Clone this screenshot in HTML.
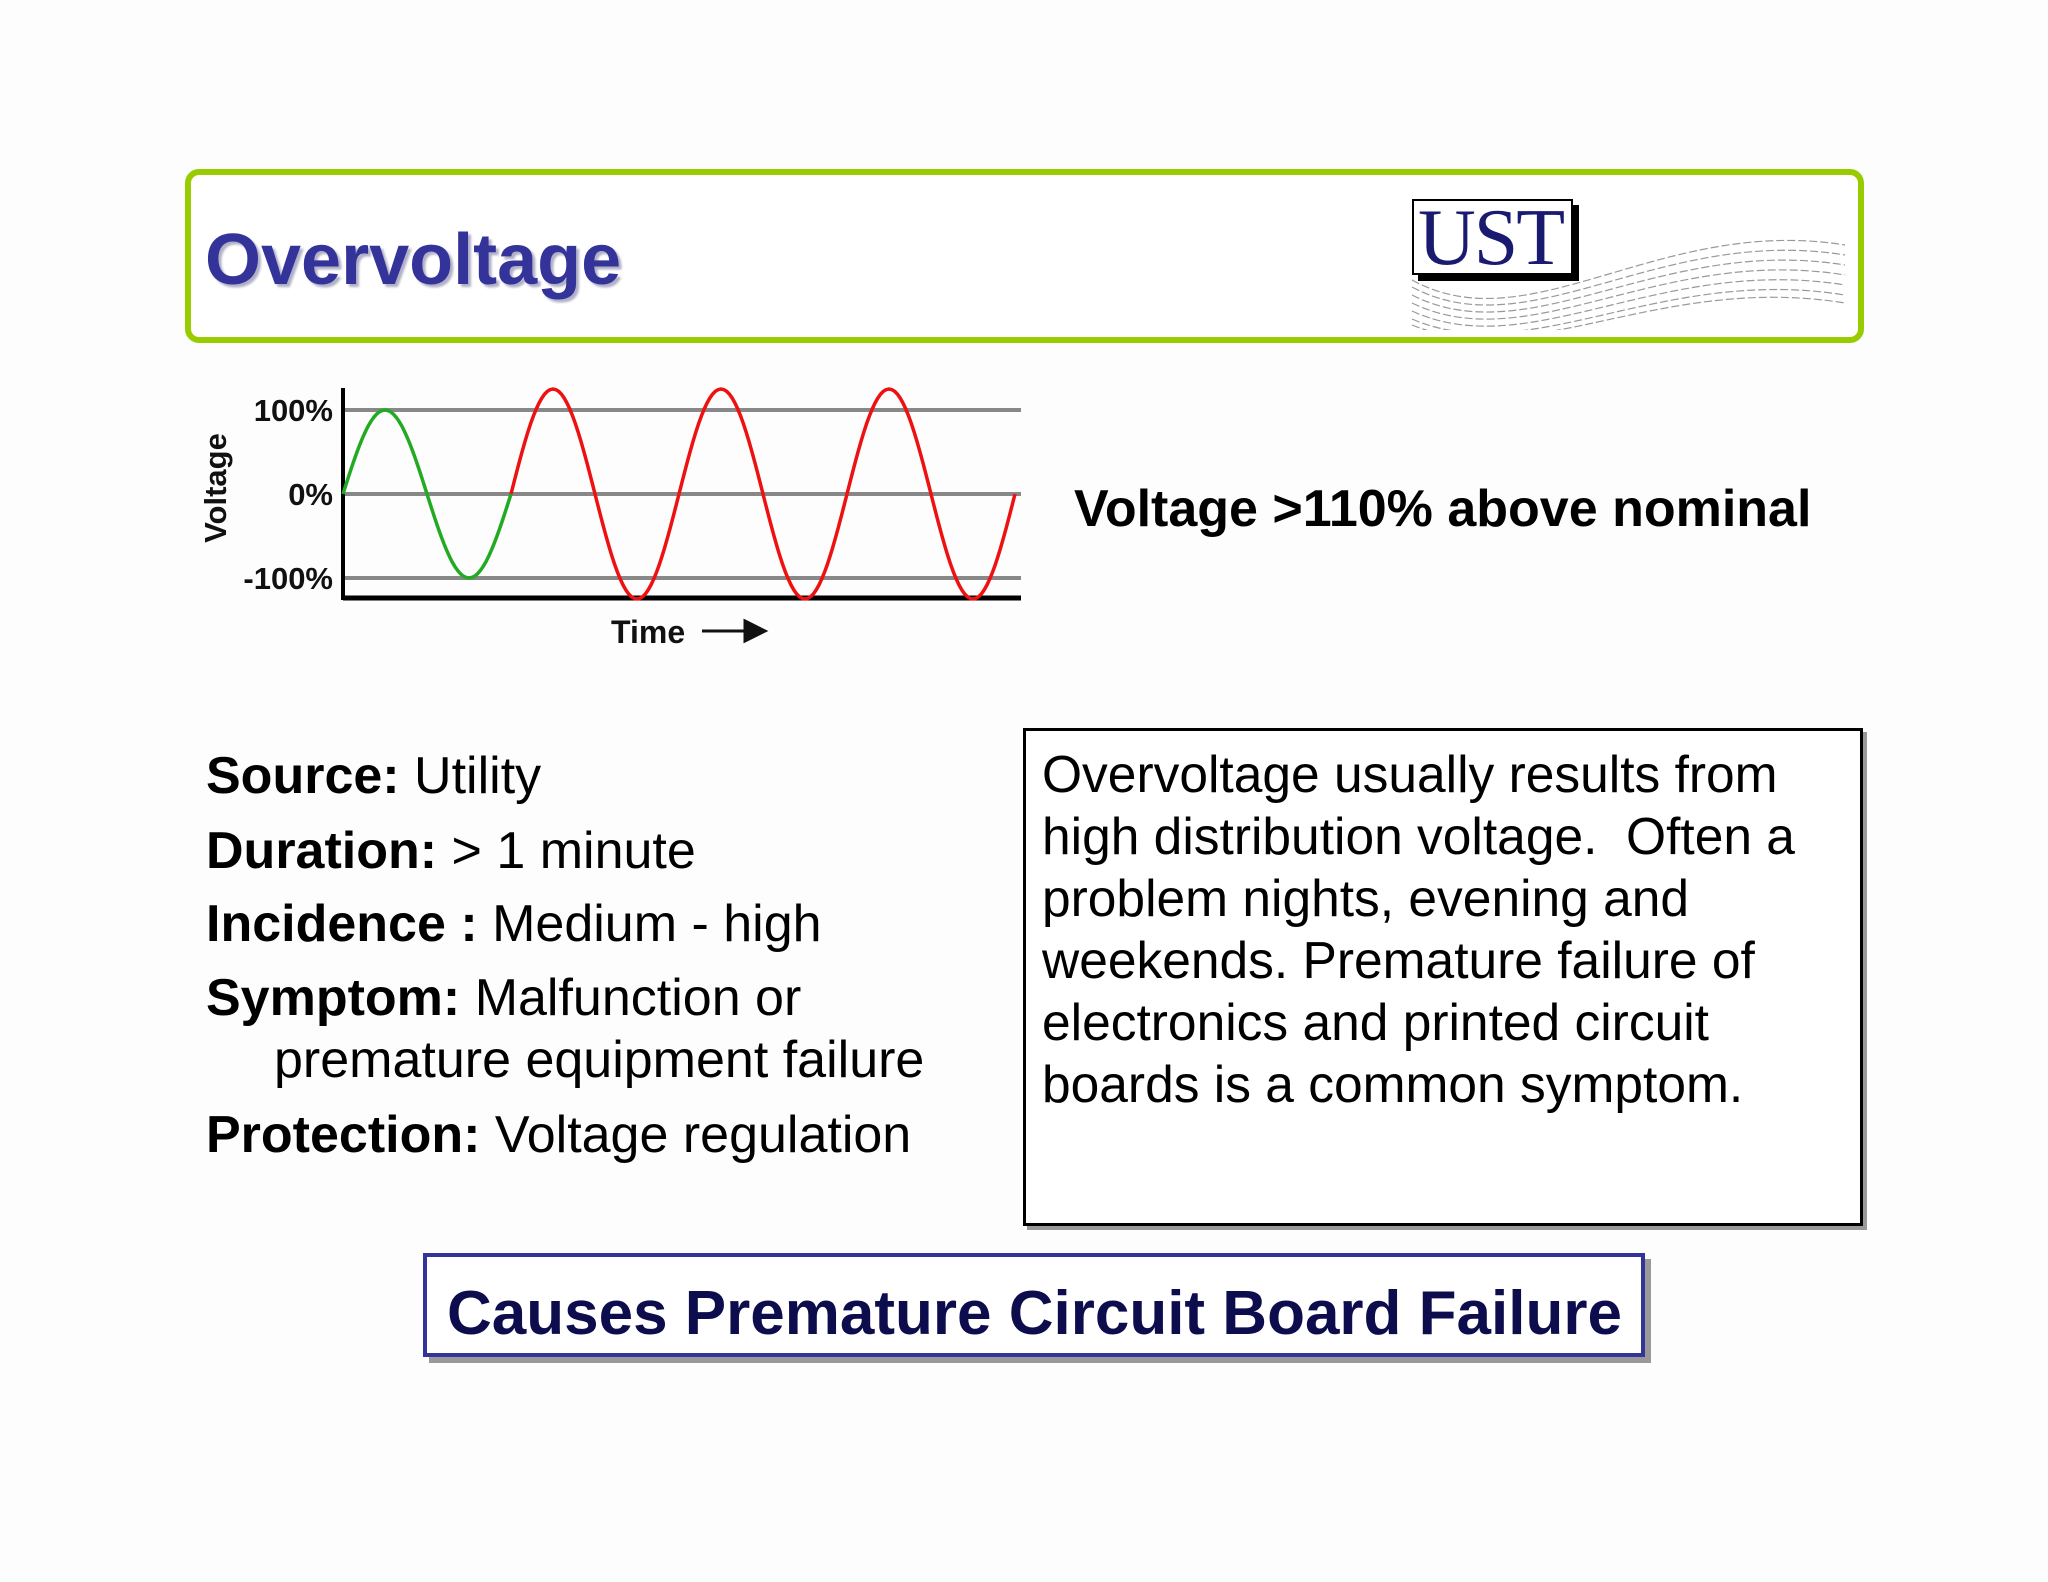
<!DOCTYPE html>
<html><head><meta charset="utf-8"><style>
html,body{margin:0;padding:0}
body{width:2048px;height:1582px;background:#fdfdfd;position:relative;overflow:hidden;font-family:"Liberation Sans",Arial,sans-serif;color:#000}
.abs{position:absolute}
.txt{position:absolute;white-space:pre;font-size:52px;line-height:1}
b{font-weight:bold}
</style></head><body>
<div class="abs" style="left:185px;top:169px;width:1667px;height:162px;border:6px solid #99cc00;border-radius:14px;background:#fff"></div>
<div class="txt" style="left:205px;top:224px;font-size:72px;font-weight:bold;color:#333399;text-shadow:3px 3px 2px #b0b0c8">Overvoltage</div>
<div class="abs" style="left:1412px;top:199px;width:157px;height:72px;border:2px solid #000;background:#fff;box-shadow:6px 6px 0 #000"></div>
<div class="txt" style="left:1418px;top:198px;font-family:'Liberation Serif',serif;font-size:80px;color:#1a1a70;letter-spacing:-2px">UST</div>
<svg class="abs" style="left:1410px;top:225px" width="440" height="105" viewBox="0 0 440 105">
<g fill="none" stroke="#999" stroke-width="1.2" stroke-dasharray="8 3">
<path d="M2 55 C120 120,250 -10,435 20"/><path d="M2 62 C120 125,250 0,435 30"/><path d="M2 70 C120 130,250 10,435 40"/><path d="M2 78 C120 135,250 20,435 50"/><path d="M2 86 C120 140,250 30,435 60"/><path d="M2 94 C120 145,250 40,435 70"/><path d="M2 100 C120 148,250 48,435 78"/>
</g></svg>

<svg class="abs" style="left:0;top:0" width="1100" height="680" id="chart"></svg>

<div class="txt" style="left:1074px;top:483px;font-size:52px;font-weight:bold">Voltage &gt;110% above nominal</div>

<div class="txt" style="left:206px;top:750px"><b>Source:</b> Utility</div>
<div class="txt" style="left:206px;top:825px"><b>Duration:</b> &gt; 1 minute</div>
<div class="txt" style="left:206px;top:898px"><b>Incidence :</b> Medium - high</div>
<div class="txt" style="left:206px;top:972px"><b>Symptom:</b> Malfunction or</div>
<div class="txt" style="left:274px;top:1034px">premature equipment failure</div>
<div class="txt" style="left:206px;top:1109px"><b>Protection:</b> Voltage regulation</div>

<div class="abs" style="left:1023px;top:728px;width:834px;height:492px;border:3px solid #000;background:#fff;box-shadow:4px 4px 0 #999"></div>
<div class="txt" style="left:1042px;top:743px;line-height:62px;font-size:51.5px">Overvoltage usually results from
high distribution voltage.  Often a
problem nights, evening and
weekends. Premature failure of
electronics and printed circuit
boards is a common symptom.</div>

<div class="abs" style="left:423px;top:1253px;width:1214px;height:96px;border:4px solid #333399;background:#fff;box-shadow:6px 6px 0 #999"></div>
<div class="txt" style="left:447px;top:1283px;font-size:62px;font-weight:bold;color:#0d0d4d">Causes Premature Circuit Board Failure</div>

<script>
const tickLabels = ["100%", "0%", "-100%"];
const tickValues = [1, 0, -1];
const cycleAmplitudes = [1, 1.25, 1.25, 1.25];
const cycleColors = ["#22aa22", "#ee1111", "#ee1111", "#ee1111"];

const svg = document.getElementById('chart');
const NS = 'http://www.w3.org/2000/svg';
const x0 = 343, x1 = 1021, period = 168;
const y0 = 494, unit = 84;
const xScale = t => x0 + t * period;
const yScale = v => y0 - v * unit;
function mk(tag, attrs){const e=document.createElementNS(NS,tag);for(const k in attrs)e.setAttribute(k,attrs[k]);svg.appendChild(e);return e;}

tickValues.forEach((v,i)=>{
  const g = mk('line',{x1:x0,x2:x1,y1:yScale(v),y2:yScale(v),stroke:'#888',"stroke-width":4});
  
  
  const t = mk('text',{x:333,y:yScale(v)+11,"text-anchor":"end","font-size":31,"font-weight":"bold","font-family":"Liberation Sans, sans-serif",fill:"#111"});
  t.textContent = tickLabels[i];
  
  
});
const ya = mk('line',{x1:x0,x2:x0,y1:388,y2:600,stroke:'#000',"stroke-width":4});


const xa = mk('line',{x1:x0,x2:x1,y1:598,y2:598,stroke:'#000',"stroke-width":5});



cycleAmplitudes.forEach((a,i)=>{
  let d='';
  for(let k=0;k<=60;k++){const t=i+k/60;d+=(k?'L':'M')+xScale(t).toFixed(1)+' '+yScale(a*Math.sin(2*Math.PI*t)).toFixed(1);}
  const p = mk('path',{d:d,fill:'none',stroke:cycleColors[i],"stroke-width":3.5});
  
  
});

const yt = mk('text',{x:0,y:0,transform:'translate(226,488) rotate(-90)',"text-anchor":"middle","font-size":31,"font-weight":"bold","font-family":"Liberation Sans, sans-serif",fill:"#111"});
yt.textContent='Voltage';


const xt = mk('text',{x:611,y:643,"font-size":32,"font-weight":"bold","font-family":"Liberation Sans, sans-serif",fill:"#111"});
xt.textContent='Time';


const ar = mk('path',{d:'M702 631 L750 631 M745 621 L765 631 L745 641 Z',stroke:'#111',"stroke-width":3,fill:'#111'});


</script>
</body></html>
